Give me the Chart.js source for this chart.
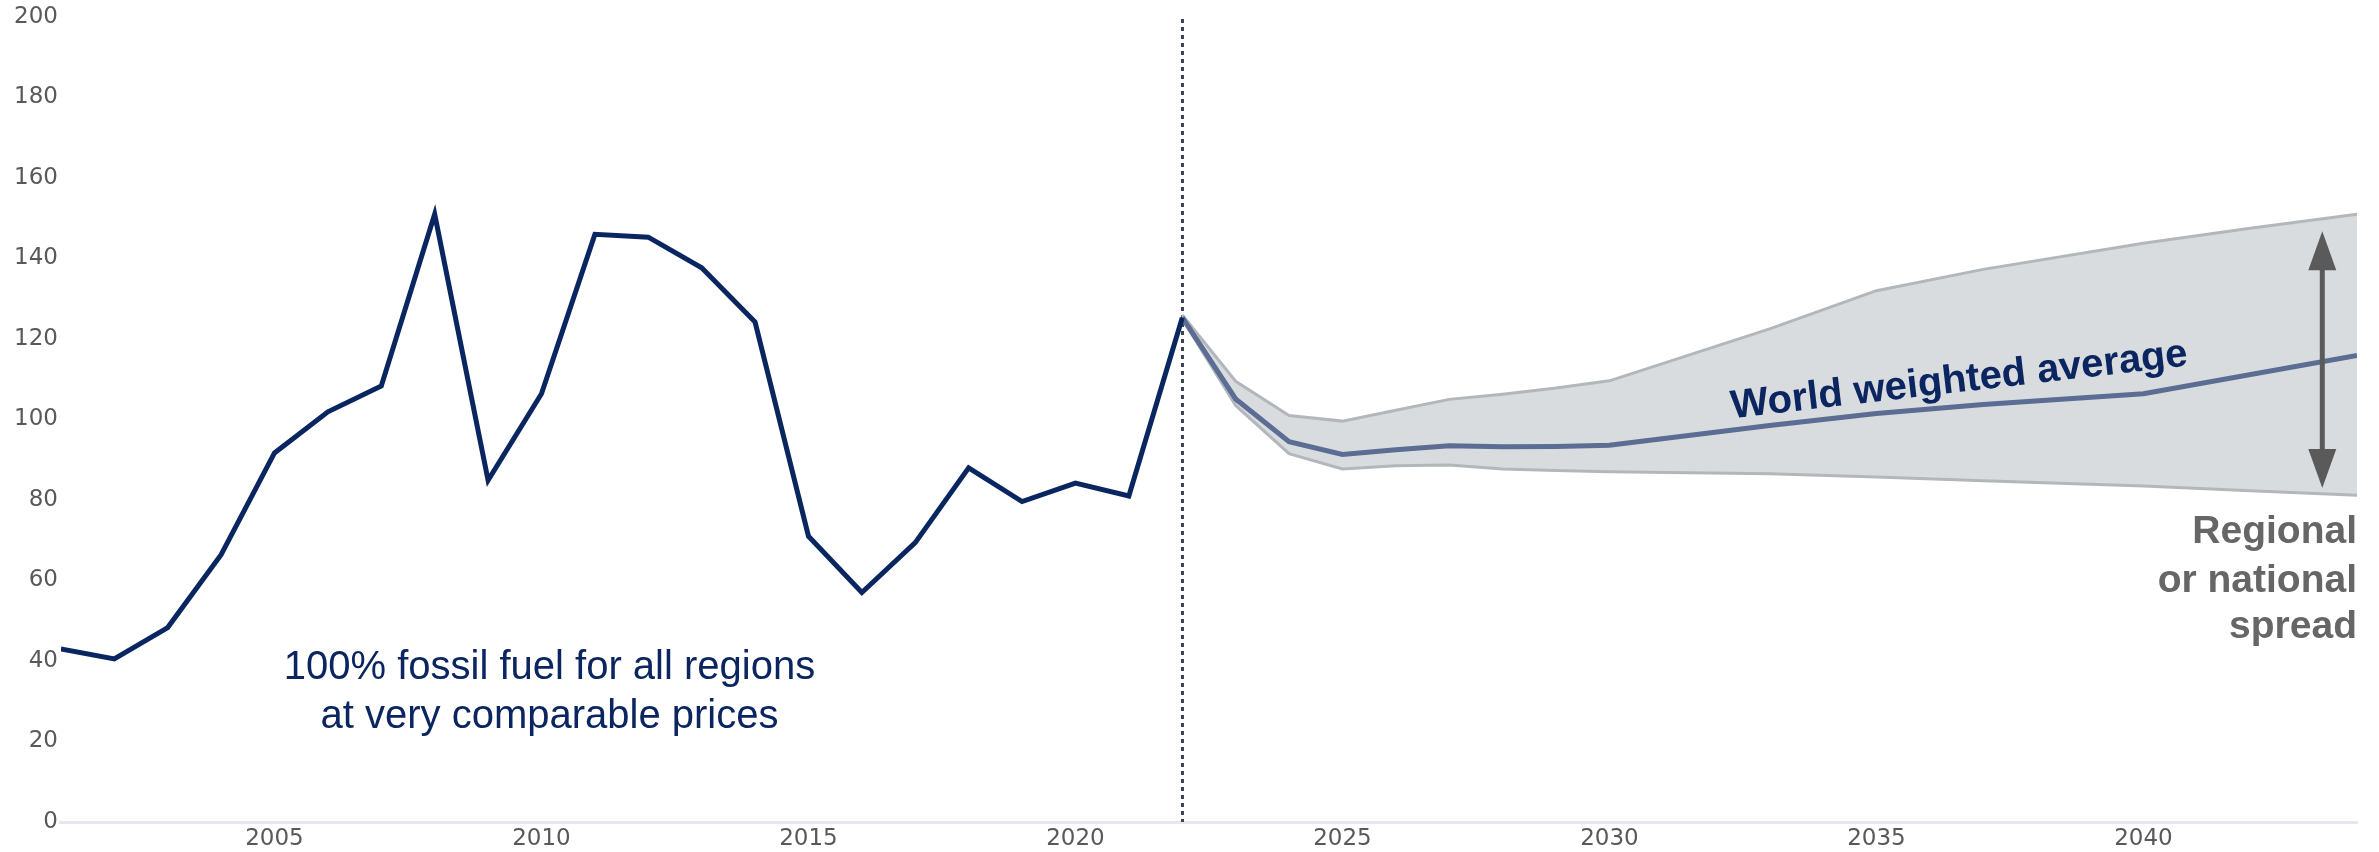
<!DOCTYPE html>
<html>
<head>
<meta charset="utf-8">
<script src="https://cdn.jsdelivr.net/npm/chart.js@4/dist/chart.umd.min.js"></script>
<style>
  html, body { margin: 0; padding: 0; background: #ffffff; }
  #wrap { width: 2379px; height: 852px; }
</style>
</head>
<body>
<div id="wrap"><canvas id="priceChart" width="2379" height="852"></canvas></div>
<script>
// Historical prices (2001-2022)
const histYears = [2001, 2002, 2003, 2004, 2005, 2006, 2007, 2008, 2009, 2010, 2011,
                   2012, 2013, 2014, 2015, 2016, 2017, 2018, 2019, 2020, 2021, 2022];
const histValues = [43, 40.5, 48.3, 66.4, 91.7, 101.9, 108.3, 151, 84.9, 106.4, 146,
                    145.3, 137.7, 124.2, 71, 57, 69.4, 88, 79.6, 84.2, 81, 125.3];

// Projection band (regional / national spread)
const bandYears = [2022, 2023, 2024, 2025, 2026, 2027, 2028, 2029, 2030, 2033, 2035, 2037, 2040, 2042, 2044];
const upperValues = [126, 109.5, 101, 99.6, 102.3, 105, 106.3, 107.8, 109.6, 122.5, 132, 137.3, 143.8, 147.5, 151];
const lowerValues = [125, 103.5, 91.5, 87.7, 88.5, 88.7, 87.7, 87.3, 87, 86.5, 85.7, 84.8, 83.5, 82.3, 81.2];

// World weighted average
const avgYears = [2022, 2023, 2024, 2025, 2026, 2027, 2028, 2029, 2030, 2033, 2035, 2037, 2040, 2044];
const avgValues = [125.4, 105.1, 94.5, 91.3, 92.5, 93.5, 93.2, 93.3, 93.6, 98.5, 101.5, 103.7, 106.4, 115.9];

// Axis ticks
const xTicks = [2005, 2010, 2015, 2020, 2025, 2030, 2035, 2040];
const yTicks = [0, 20, 40, 60, 80, 100, 120, 140, 160, 180, 200];

const toPoints = (xs, ys) => xs.map((x, i) => ({ x: x, y: ys[i] }));

// Dotted divider, arrow and text labels
const annotations = {
    id: 'annotations',
    beforeDatasetsDraw(chart) {
        const { ctx, scales: { x, y } } = chart;
        const px = Math.round(x.getPixelForValue(2022)) + 0.5;
        ctx.save();
        ctx.strokeStyle = '#3e4454';
        ctx.lineWidth = 3;
        ctx.setLineDash([4, 4]);
        ctx.beginPath();
        ctx.moveTo(px, y.getPixelForValue(199.5));
        ctx.lineTo(px, y.getPixelForValue(0));
        ctx.stroke();
        ctx.restore();
    },
    afterDatasetsDraw(chart) {
        const { ctx, scales: { x, y } } = chart;
        ctx.save();

        // left note
        ctx.fillStyle = '#0b2560';
        ctx.font = '40px "Liberation Sans", Arial, sans-serif';
        ctx.textAlign = 'center';
        ctx.textBaseline = 'middle';
        const nx = x.getPixelForValue(2010.15);
        ctx.fillText('100% fossil fuel for all regions', nx, y.getPixelForValue(38.2));
        ctx.fillText('at very comparable prices', nx, y.getPixelForValue(26.0));

        // rotated average label
        ctx.save();
        ctx.translate(x.getPixelForValue(2036.55), y.getPixelForValue(109.6));
        ctx.rotate(-6.6 * Math.PI / 180);
        ctx.font = 'bold 40px "Liberation Sans", Arial, sans-serif';
        ctx.fillStyle = '#0b2560';
        ctx.fillText('World weighted average', 0, 0);
        ctx.restore();

        // spread arrow
        const ax = x.getPixelForValue(2043.35);
        const top = y.getPixelForValue(146.8);
        const bot = y.getPixelForValue(83.0);
        const headH = 39, headW = 14;
        ctx.fillStyle = '#5a5a5a';
        ctx.strokeStyle = '#5a5a5a';
        ctx.lineWidth = 5;
        ctx.beginPath();
        ctx.moveTo(ax, top + headH - 2);
        ctx.lineTo(ax, bot - headH + 2);
        ctx.stroke();
        ctx.beginPath();
        ctx.moveTo(ax, top);
        ctx.lineTo(ax - headW, top + headH);
        ctx.lineTo(ax + headW, top + headH);
        ctx.closePath();
        ctx.fill();
        ctx.beginPath();
        ctx.moveTo(ax, bot);
        ctx.lineTo(ax - headW, bot - headH);
        ctx.lineTo(ax + headW, bot - headH);
        ctx.closePath();
        ctx.fill();

        // spread label
        ctx.font = 'bold 39px "Liberation Sans", Arial, sans-serif';
        ctx.fillStyle = '#666666';
        ctx.textAlign = 'right';
        const rx = chart.chartArea.right;
        ctx.fillText('Regional', rx, y.getPixelForValue(72.0));
        ctx.fillText('or national', rx, y.getPixelForValue(59.7));
        ctx.fillText('spread', rx, y.getPixelForValue(48.3));
        ctx.restore();
    }
};

const ctx = document.getElementById('priceChart').getContext('2d');
new Chart(ctx, {
    type: 'line',
    data: {
        datasets: [
            {
                label: 'Historical',
                data: toPoints(histYears, histValues),
                borderColor: '#0a2660',
                borderWidth: 5,
                fill: false,
                pointRadius: 0,
                tension: 0,
                order: 0
            },
            {
                label: 'World weighted average',
                data: toPoints(avgYears, avgValues),
                borderColor: '#5b6d93',
                borderWidth: 5,
                fill: false,
                pointRadius: 0,
                tension: 0,
                order: 1
            },
            {
                label: 'Lower',
                data: toPoints(bandYears, lowerValues),
                borderColor: '#b3b7bc',
                borderWidth: 3,
                fill: false,
                pointRadius: 0,
                tension: 0,
                order: 2
            },
            {
                label: 'Upper',
                data: toPoints(bandYears, upperValues),
                borderColor: '#b3b7bc',
                borderWidth: 3,
                backgroundColor: '#d9dcdf',
                fill: '-1',
                pointRadius: 0,
                tension: 0,
                order: 3
            }
        ]
    },
    options: {
        responsive: false,
        animation: false,
        layout: { padding: { left: 11, right: 22, top: 17, bottom: -5 } },
        plugins: {
            legend: { display: false },
            tooltip: { enabled: false },
            filler: { drawTime: 'beforeDatasetsDraw' }
        },
        scales: {
            x: {
                type: 'linear',
                min: 2001,
                max: 2044,
                afterBuildTicks: scale => { scale.ticks = xTicks.map(v => ({ value: v })); },
                ticks: {
                    color: '#595959',
                    font: { family: '"DejaVu Sans"', size: 23, lineHeight: 1 },
                    padding: 6,
                    maxRotation: 0,
                    callback: v => String(v)
                },
                grid: { display: false, drawTicks: false },
                border: { display: true, color: '#e6e6ef', width: 3 }
            },
            y: {
                min: 0,
                max: 200,
                afterBuildTicks: scale => { scale.ticks = yTicks.map(v => ({ value: v })); },
                ticks: {
                    color: '#595959',
                    font: { family: '"DejaVu Sans"', size: 23 },
                    padding: 3
                },
                grid: { display: false, drawTicks: false },
                border: { display: false }
            }
        }
    },
    plugins: [annotations]
});
</script>
</body>
</html>
